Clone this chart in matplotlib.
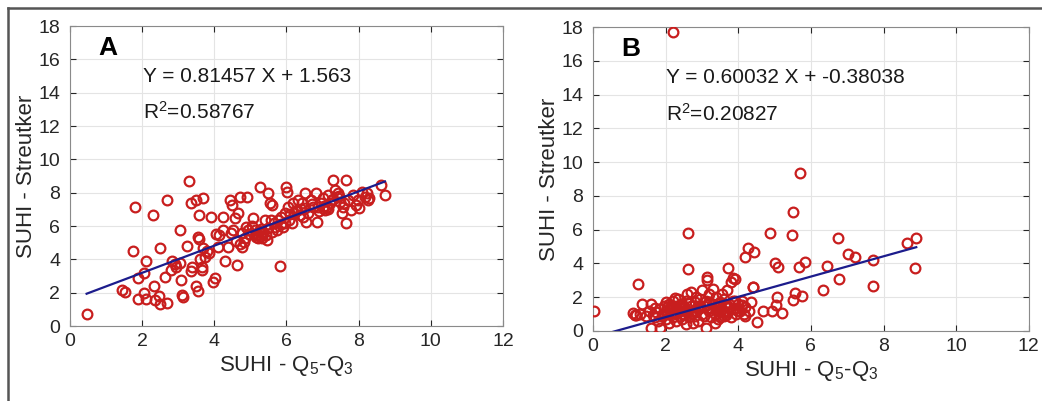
import matplotlib.pyplot as plt
import numpy as np
from matplotlib.lines import Line2D

plt.rcParams['font.family'] = ['Liberation Sans', 'DejaVu Sans']
plt.rcParams['mathtext.fontset'] = 'custom'
plt.rcParams['mathtext.rm'] = 'Liberation Sans'
plt.rcParams['mathtext.it'] = 'Liberation Sans'

# panel A: SUHI Q5-Q3 vs Streutker
xa = [0.46, 1.43, 1.52, 1.74, 1.80, 1.89, 1.89, 2.05, 2.10, 2.10, 2.06, 2.29, 2.33, 2.36, 2.47,
      2.50, 2.50, 2.70, 2.70, 2.63, 2.79, 2.84, 2.90, 2.95, 3.05, 3.05, 3.07, 3.11, 3.13, 3.23,
      3.30, 3.34, 3.34, 3.37, 3.50, 3.55, 3.50, 3.55, 3.58, 3.58, 3.60, 3.65, 3.67, 3.69, 3.69,
      3.74, 3.86, 3.90, 3.95, 4.02, 4.11, 4.14, 4.23, 4.25, 4.30, 4.39, 4.43, 4.48, 4.52, 4.57,
      4.62, 4.66, 4.71, 4.76, 4.78, 4.83, 4.88, 4.91, 4.94, 5.06, 5.12, 5.17, 5.22, 5.26, 5.31,
      5.36, 5.40, 5.45, 5.48, 5.54, 5.56, 5.59, 5.61, 5.68, 5.73, 5.82, 5.77, 5.86, 5.91, 5.96,
      6.00, 6.02, 6.05, 6.08, 6.14, 6.19, 6.28, 6.33, 6.37, 6.42, 6.46, 6.51, 6.55, 6.60, 6.69,
      6.74, 6.81, 6.85, 6.88, 6.97, 7.02, 7.06, 7.11, 7.16, 7.20, 7.25, 7.29, 7.34, 7.39, 7.43,
      7.48, 7.53, 7.57, 7.65, 7.66, 7.71, 7.80, 7.85, 7.94, 7.99, 8.08, 8.17, 8.22, 8.26, 8.63,
      8.73, 5.20, 5.25, 5.30, 5.35, 5.28, 5.42, 5.50, 5.15, 5.33, 5.85, 5.95, 6.10, 6.25, 6.40,
      6.70, 7.05, 7.15, 7.30, 7.45, 4.70, 4.85, 4.95, 5.05, 6.90, 7.00, 7.60, 8.00, 8.30, 3.80,
      4.05, 4.45, 4.60, 5.65, 6.20, 6.50]
ya = [0.72, 2.16, 2.06, 4.52, 7.12, 2.86, 1.62, 1.96, 1.60, 3.92, 3.20, 6.64, 2.40, 1.56, 1.80,
      1.30, 4.66, 7.56, 1.40, 2.96, 3.36, 3.92, 3.70, 3.56, 3.76, 5.76, 2.76, 1.86, 1.76, 4.80,
      8.72, 7.36, 3.32, 3.56, 2.40, 2.12, 7.56, 5.36, 6.66, 5.20, 4.00, 3.36, 3.56, 7.66, 4.66,
      4.16, 4.36, 6.52, 2.66, 2.86, 4.76, 5.46, 6.52, 5.76, 3.90, 4.76, 7.56, 7.26, 5.76, 6.46,
      3.66, 6.76, 7.76, 5.56, 4.76, 5.06, 5.96, 7.72, 5.76, 6.46, 5.76, 5.46, 5.26, 8.36, 5.56,
      5.66, 6.36, 5.16, 8.00, 7.36, 6.36, 5.66, 7.26, 5.96, 5.76, 3.62, 6.36, 6.56, 5.96, 6.76,
      8.36, 8.06, 7.16, 6.36, 6.16, 7.36, 6.96, 7.56, 6.66, 7.36, 6.56, 7.96, 6.26, 6.76, 7.56,
      7.16, 7.96, 6.26, 7.16, 7.36, 7.66, 6.96, 7.16, 7.86, 7.36, 7.56, 8.76, 8.16, 7.76, 7.96,
      7.46, 6.76, 7.16, 8.76, 6.16, 7.56, 6.96, 7.86, 7.26, 7.56, 8.06, 7.76, 7.96, 7.56, 8.46,
      7.86, 5.50, 5.70, 5.40, 5.60, 5.85, 5.45, 5.90, 5.35, 5.30, 6.10, 6.20, 6.70, 6.90, 7.00,
      7.30, 7.20, 7.00, 7.60, 7.80, 4.90, 5.30, 5.50, 6.00, 6.90, 7.10, 7.40, 7.10, 7.70, 4.50,
      5.50, 5.60, 5.10, 6.20, 6.80, 7.10]

# panel B
xb = [0.02, 1.15, 1.24, 1.36, 1.10, 1.61, 1.84, 1.66, 1.70, 2.21, 2.62, 2.62, 3.13, 3.72, 3.86,
      4.18, 4.28, 4.43, 4.41, 4.52, 4.67, 4.87, 4.94, 5.01, 5.06, 5.10, 5.04, 5.20, 5.47, 5.52,
      5.52, 5.56, 5.68, 5.70, 5.75, 5.84, 6.33, 6.44, 6.76, 6.78, 7.03, 7.22, 7.71, 7.72, 8.64,
      8.90, 8.87,
      1.20, 1.30, 1.45, 1.55, 1.70, 1.75, 1.80, 1.85, 1.90, 1.95, 2.00, 2.00, 2.05, 2.10, 2.10,
      2.15, 2.20, 2.20, 2.25, 2.30, 2.30, 2.35, 2.40, 2.40, 2.45, 2.50, 2.50, 2.55, 2.55, 2.60,
      2.60, 2.65, 2.70, 2.70, 2.75, 2.80, 2.80, 2.85, 2.90, 2.90, 2.95, 3.00, 3.00, 3.05, 3.10,
      3.10, 3.15, 3.20, 3.20, 3.25, 3.30, 3.30, 3.35, 3.40, 3.40, 3.45, 3.50, 3.50, 3.55, 3.60,
      3.60, 3.65, 3.70, 3.70, 3.75, 3.80, 3.80, 3.85, 3.90, 3.90, 3.95, 4.00, 4.05, 4.10, 4.15,
      4.20, 4.20, 4.30, 4.40, 4.35, 2.15, 2.35, 2.45, 2.65, 2.85, 3.05, 3.25, 3.45, 3.65, 3.85,
      2.00, 1.95, 2.25, 2.75, 3.35, 3.55, 1.60, 2.05, 2.30, 2.55, 2.95, 3.15, 3.50, 3.75, 4.00,
      2.20, 2.40, 2.70, 2.90, 3.20, 3.40, 3.60, 3.95, 4.10]
yb = [1.16, 0.96, 2.78, 1.60, 1.06, 0.16, 0.16, 0.96, 1.37, 17.70, 5.80, 3.67, 3.19, 3.73, 3.13,
      4.37, 4.92, 4.68, 2.60, 0.52, 1.21, 5.81, 1.21, 4.03, 2.04, 3.77, 1.55, 1.09, 5.69, 7.04,
      1.85, 2.24, 3.77, 9.35, 2.08, 4.11, 2.44, 3.83, 5.50, 3.10, 4.58, 4.38, 4.23, 2.68, 5.22,
      5.50, 3.73,
      0.95, 1.00, 0.90, 1.20, 0.80, 1.10, 0.60, 1.30, 0.90, 1.50, 0.70, 1.20, 1.00, 1.60, 0.50,
      1.30, 0.80, 1.80, 1.10, 1.50, 0.60, 1.90, 1.20, 0.90, 1.60, 1.00, 1.40, 0.40, 1.80, 1.10,
      2.20, 0.80, 1.50, 2.30, 1.20, 0.90, 1.70, 2.00, 1.30, 0.60, 1.90, 1.00, 2.40, 1.50, 0.20,
      1.80, 3.00, 1.20, 2.20, 0.80, 1.60, 2.50, 1.00, 1.40, 2.00, 0.70, 1.70, 1.10, 1.30, 0.90,
      1.90, 1.50, 2.40, 1.10, 1.60, 0.80, 2.90, 1.30, 3.10, 1.80, 1.00, 1.60, 1.20, 1.80, 1.00,
      1.40, 0.90, 1.20, 2.60, 1.70, 1.45, 1.25, 0.70, 1.65, 1.10, 0.90, 1.35, 1.60, 0.95, 1.75,
      1.70, 1.00, 1.95, 0.50, 0.50, 2.20, 1.60, 1.40, 1.00, 1.25, 1.35, 1.55, 0.85, 1.40, 1.20,
      1.15, 1.50, 1.05, 1.45, 1.70, 1.25, 1.15, 1.35, 1.55]

fits = [(0.81457, 1.563, '0.58767', 'A'), (0.60032, -0.38038, '0.20827', 'B')]
eq_text = ['Y = 0.81457 X + 1.563', 'Y = 0.60032 X + -0.38038']

fig = plt.figure(figsize=(10.42, 4.01), dpi=100)
ax_a = fig.add_axes([0.0672, 0.187, 0.4155, 0.748])
ax_b = fig.add_axes([0.569, 0.1746, 0.4184, 0.758])

for ax, xs, ys, (m, c, r2, tag), eq in zip([ax_a, ax_b], [xa, xb], [ya, yb], fits, eq_text):
    ax.plot(xs, ys, 'o', mfc='none', mec='#c81e1e', mew=1.6, ms=7, zorder=3)
    xl = np.array([min(xs), max(xs)])
    ax.plot(xl, m * xl + c, color='#1c1c8c', lw=1.6, zorder=4)
    ax.set_xlim(0, 12)
    ax.set_ylim(0, 18)
    ax.set_xticks(range(0, 13, 2))
    ax.set_yticks(range(0, 19, 2))
    ax.grid(True, color='#e4e4e4', lw=0.8)
    ax.set_axisbelow(True)
    ax.tick_params(direction='in', top=True, right=True, length=4, labelsize=14,
                   colors='#262626')
    ax.tick_params(axis='y', pad=7)
    ax.tick_params(axis='x', pad=5)
    for s in ax.spines.values():
        s.set_color('#8a8a8a')
    ax.set_xlabel('SUHI - Q$_\\mathrm{5}$-Q$_\\mathrm{3}$', fontsize=16, color='#262626', labelpad=3)
    ax.set_ylabel('SUHI - Streutker', fontsize=16, color='#262626', labelpad=1)
    ax.text(1.05, 16.7, tag, fontsize=19, fontweight='bold', ha='center', va='center')
    ax.text(2.02, 15.0, eq, fontsize=15, va='center', color='#1a1a1a')
    ax.text(2.02, 12.85, 'R$^\\mathrm{2}$=' + r2, fontsize=15, va='center', color='#1a1a1a')

# outer frame lines (top and left)
fig.add_artist(Line2D([8 / 1042, 1], [1 - 8 / 401, 1 - 8 / 401], color='#555555', lw=1.8))
fig.add_artist(Line2D([8 / 1042, 8 / 1042], [0, 1 - 8 / 401], color='#555555', lw=1.8))

fig.savefig('out.png', dpi=100)
